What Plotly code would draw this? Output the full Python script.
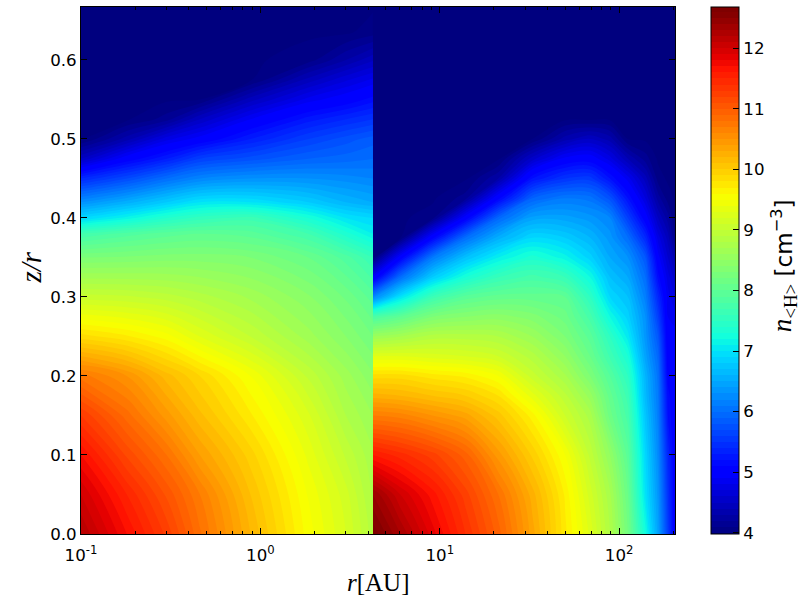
import plotly.graph_objects as go

# ---- axis labels
X_TICKS = [0.1, 1, 10, 100]
X_TICK_TEXT = ["10<sup>-1</sup>", "10<sup>0</sup>", "10<sup>1</sup>", "10<sup>2</sup>"]
X_MINOR = [0.2,0.3,0.4,0.5,0.6,0.7,0.8,0.9,2,3,4,5,6,7,8,9,20,30,40,50,60,70,80,90,200]
Y_TICKS = [0.0, 0.1, 0.2, 0.3, 0.4, 0.5, 0.6]
CB_TICKS = [4, 5, 6, 7, 8, 9, 10, 11, 12]

# ---- left half (r < 4.24 AU): values
D = 3.98
L_R = [0.1, 0.18, 0.3, 0.46, 0.88, 1.85, 3.0, 4.24]
L_Z = [0, .05, .1, .15, .2, .25, .3, .35, .38, .4, .42, .45, .475, .5, .525, .55, .575, .6, .635, .67]
L_ROW_000 = [12.2, 11.7, 11.27, 10.82, 10.2, 9.55, 9.2, 8.85]
L_ROW_005 = [12.0, 11.5, 11.08, 10.7, 10.1, 9.49, 9.14, 8.78]
L_ROW_010 = [11.7, 11.18, 10.8, 10.4, 9.95, 9.37, 8.98, 8.72]
L_ROW_015 = [11.3, 10.85, 10.45, 10.13, 9.72, 9.22, 8.8, 8.6]
L_ROW_020 = [10.75, 10.5, 10.15, 9.9, 9.5, 8.98, 8.65, 8.42]
L_ROW_025 = [9.85, 9.72, 9.55, 9.3, 9.0, 8.65, 8.4, 8.2]
L_ROW_030 = [9.05, 9.02, 8.95, 8.85, 8.68, 8.42, 8.18, 7.95]
L_ROW_035 = [8.3, 8.32, 8.35, 8.35, 8.3, 8.1, 7.85, 7.6]
L_ROW_038 = [7.7, 7.85, 7.95, 8.0, 7.95, 7.7, 7.35, 7.1]
L_ROW_040 = [6.9, 7.15, 7.4, 7.55, 7.65, 7.3, 7.0, 6.9]
L_ROW_042 = [6.3, 6.55, 6.8, 7.0, 7.0, 6.8, 6.6, 6.5]
L_ROW_045 = [5.4, 5.7, 6.0, 6.2, 6.3, 6.3, 6.25, 6.2]
L_ROW_0475 = [4.5, 5.0, 5.3, 5.6, 5.75, 5.9, 5.95, 6.0]
L_ROW_050 = [D, 4.35, 4.76, 4.96, 5.3, 5.6, 5.75, 5.85]
L_ROW_0525 = [D, D, 4.15, 4.5, 4.9, 5.25, 5.4, 5.5]
L_ROW_055 = [D, D, D, 4.0, 4.45, 4.84, 5.0, 5.15]
L_ROW_0575 = [D, D, D, D, 3.98, 4.44, 4.68, 4.82]
L_ROW_060 = [D, D, D, D, D, 4.05, 4.3, 4.48]
L_ROW_0635 = [D, D, D, D, D, D, D, 4.05]
L_ROW_067 = [D, D, D, D, D, D, D, D]
L_VALUES = [L_ROW_000, L_ROW_005, L_ROW_010, L_ROW_015, L_ROW_020, L_ROW_025, L_ROW_030, L_ROW_035,
            L_ROW_038, L_ROW_040, L_ROW_042, L_ROW_045, L_ROW_0475, L_ROW_050, L_ROW_0525, L_ROW_055,
            L_ROW_0575, L_ROW_060, L_ROW_0635, L_ROW_067]

# ---- right half (r > 4.24 AU): one list per radius
R_Z = [0, .05, .1, .15, .175, .2, .225, .25, .275, .3, .325, .35, .375, .4, .425, .45, .475, .5, .525, .55, .67]
R_R = [4.24, 6.03, 9.1, 13.9, 21.2, 32.8, 50, 69, 89, 112, 140, 165, 187, 205]
C_004 = [12.68,12.4,11.6,10.7,10.25,9.85,9.3,8.6,7.8,6.2,4.9,D,D,D,D,D,D,D,D,D,D]
C_006 = [12.3,12.0,11.45,10.65,10.2,9.85,9.3,8.7,8.0,7.0,6.0,5.0,4.0,D,D,D,D,D,D,D,D]
C_009 = [11.85,11.65,11.25,10.5,10.1,9.75,9.25,8.85,8.3,7.65,6.8,6.1,5.05,4.05,D,D,D,D,D,D,D]
C_014 = [11.4,11.25,10.95,10.35,10.0,9.68,9.2,8.85,8.4,7.95,7.3,6.7,6.0,5.0,4.15,D,D,D,D,D,D]
C_021 = [10.95,10.8,10.45,10.05,9.8,9.5,9.1,8.8,8.45,8.05,7.6,7.1,6.55,5.95,5.05,4.3,D,D,D,D,D]
C_033 = [10.35,10.25,9.98,9.65,9.35,9.05,8.85,8.6,8.35,8.05,7.75,7.35,6.9,6.45,5.9,5.2,4.55,4.0,D,D,D]
C_050 = [9.73,9.68,9.5,9.1,8.93,8.72,8.5,8.3,8.15,8.0,7.6,7.15,6.8,6.45,6.1,5.5,4.95,4.35,D,D,D]
C_069 = [9.27,9.15,8.97,8.75,8.55,8.3,8.1,7.95,7.75,7.5,7.2,6.85,6.6,6.35,6.05,5.55,5.0,4.5,D,D,D]
C_089 = [8.8,8.72,8.5,8.15,8.05,7.9,7.68,7.5,7.2,6.9,6.7,6.5,6.35,6.2,5.75,5.2,4.75,4.35,D,D,D]
C_112 = [8.2,8.1,7.95,7.75,7.65,7.5,7.3,7.05,6.85,6.7,6.5,6.3,6.0,5.6,5.2,4.85,4.4,4.0,D,D,D]
C_140 = [7.25,7.0,6.9,6.75,6.65,6.6,6.45,6.35,6.3,6.15,6.0,5.8,5.4,5.0,4.7,4.45,4.15,D,D,D,D]
C_165 = [6.45,6.35,6.25,6.15,6.1,6.05,5.95,5.8,5.6,5.4,5.15,4.95,4.75,4.5,4.25,4.05,D,D,D,D,D]
C_187 = [5.6,5.5,5.4,5.2,5.15,5.05,5.0,4.95,4.9,4.85,4.75,4.6,4.45,4.25,4.05,D,D,D,D,D,D]
C_205 = [4.95,4.95,4.95,4.95,4.95,4.95,4.95,4.95,4.85,4.7,4.55,4.35,4.1,D,D,D,D,D,D,D,D]
R_COLUMNS = [C_004, C_006, C_009, C_014, C_021, C_033, C_050, C_069, C_089, C_112, C_140, C_165, C_187, C_205]
R_VALUES = [list(row) for row in zip(*R_COLUMNS)]

# matplotlib-style jet
JET = [[0, "rgb(0,0,127)"], [.11, "rgb(0,0,255)"], [.125, "rgb(0,0,255)"], [.34, "rgb(0,219,255)"],
       [.35, "rgb(0,229,246)"], [.375, "rgb(16,255,222)"], [.64, "rgb(246,255,1)"], [.65, "rgb(250,255,0)"],
       [.66, "rgb(255,240,0)"], [.89, "rgb(255,18,0)"], [.91, "rgb(232,0,0)"], [1, "rgb(127,0,0)"]]

VMIN, VMAX = 3.98, 12.68
PL, PR, PT, PB = 80.5, 675.5, 6.5, 534.5
CONT = dict(start=4.0, end=12.7, size=0.1, coloring="fill")

fig = go.Figure()
fig.add_trace(go.Contour(x=L_R, y=L_Z, z=L_VALUES, colorscale=JET, zauto=False, zmin=VMIN, zmax=VMAX,
                         contours=CONT, line=dict(width=0, smoothing=1), showscale=False))
fig.add_trace(go.Contour(x=R_R, y=R_Z, z=R_VALUES, colorscale=JET, zauto=False, zmin=VMIN, zmax=VMAX,
                         contours=CONT, line=dict(width=0, smoothing=1),
                         colorbar=dict(thickness=28, thicknessmode="pixels", len=1, lenmode="fraction",
                                       x=(712 - PL) / (PR - PL), xanchor="left", y=0.5, yanchor="middle",
                                       xpad=0, ypad=0, outlinecolor="black", outlinewidth=1,
                                       tickmode="array", tickvals=CB_TICKS, ticks="inside", ticklen=6,
                                       tickcolor="black", tickwidth=1,
                                       tickfont=dict(family="DejaVu Sans", size=16.67, color="black"))))

axis_common = dict(showline=True, linecolor="black", linewidth=1, mirror="allticks", ticks="inside",
                   tickcolor="black", tickwidth=1, ticklen=6, showgrid=False, zeroline=False,
                   tickfont=dict(family="DejaVu Sans", size=16.67, color="black"))
fig.update_xaxes(type="log", range=[-1, 2.3115], tickmode="array", tickvals=X_TICKS, ticktext=X_TICK_TEXT,
                 ticklabelstandoff=6,
                 minor=dict(ticks="inside", ticklen=3, tickcolor="black", tickwidth=1, tickvals=X_MINOR, showgrid=False),
                 **axis_common)
fig.update_yaxes(range=[0, 0.667], tickmode="array", tickvals=Y_TICKS, tickformat=".1f", **axis_common)

SERIF = "Liberation Serif"
fig.update_layout(
    width=800, height=600, autosize=False, showlegend=False,
    paper_bgcolor="white", plot_bgcolor="rgb(0,0,127)",
    margin=dict(l=PL, r=800 - PR, t=PT, b=600 - PB, pad=0),
    annotations=[
        dict(text="<i>r</i>[AU]", x=378, y=583, xref="paper", yref="paper", showarrow=False,
             font=dict(family=SERIF, size=25, color="black")),
        dict(text="<i>z/r</i>", x=30, y=268, xref="paper", yref="paper", showarrow=False, textangle=-90,
             font=dict(family=SERIF, size=29, color="black")),
        dict(text="<i>n</i><sub>&lt;H&gt;</sub>", x=785, y=308, xref="paper", yref="paper", showarrow=False,
             textangle=-90, font=dict(family=SERIF, size=27, color="black")),
        dict(text="[cm<sup>−3</sup>]", x=783, y=238, xref="paper", yref="paper", showarrow=False,
             textangle=-90, font=dict(family="DejaVu Sans", size=23, color="black")),
    ],
)
# annotations are positioned in pixels of the 800x600 page
for a in fig.layout.annotations:
    a.x = (a.x - PL) / (PR - PL)
    a.y = (PB - a.y) / (PB - PT)
    a.xanchor = "center"
    a.yanchor = "middle"

fig.write_html("out.html", config={"displayModeBar": False},
               post_script="document.body.style.margin='0';document.body.style.overflow='hidden';")
